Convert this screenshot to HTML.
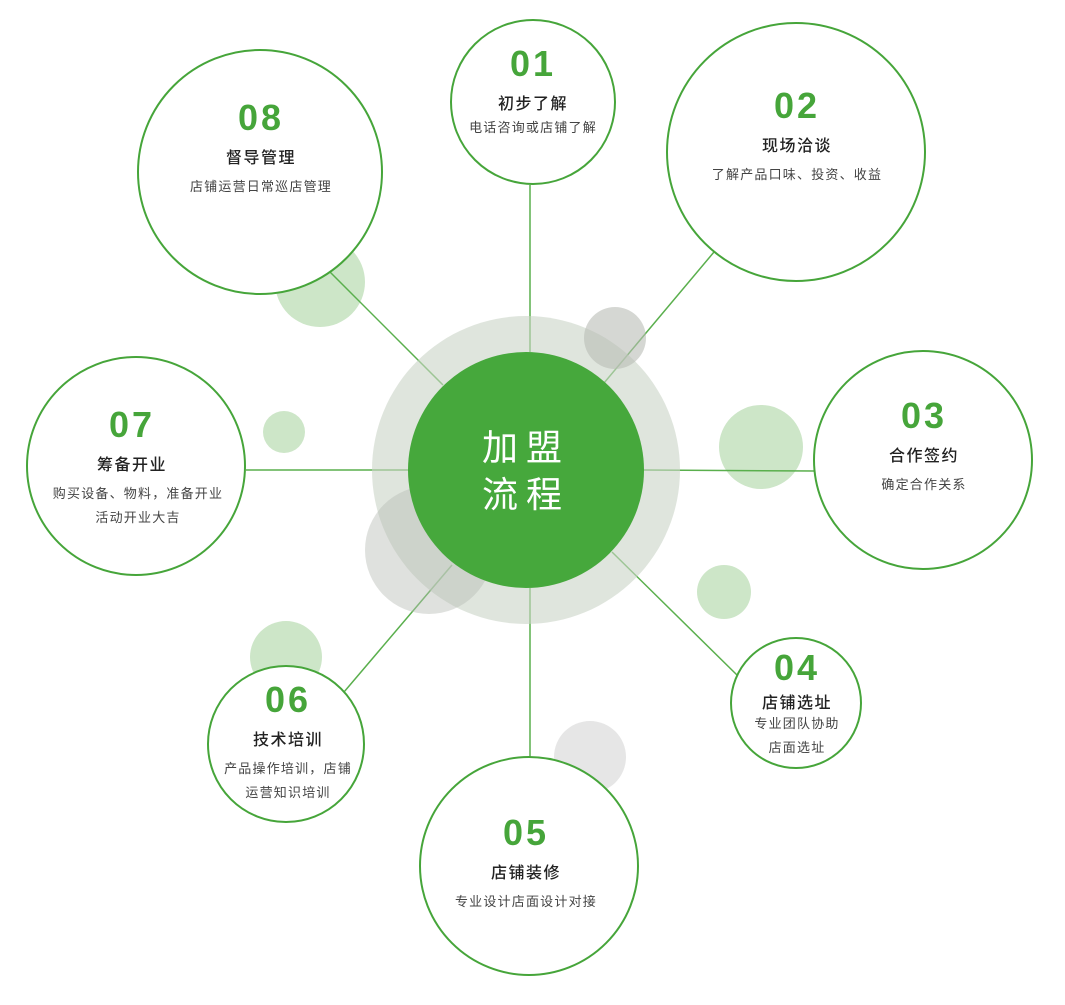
<!DOCTYPE html>
<html><head><meta charset="utf-8"><style>
html,body{margin:0;padding:0;background:#fff;}
svg text{font-family:"Liberation Sans","Noto Sans CJK SC",sans-serif;text-anchor:middle;}
.n{font-size:36px;font-weight:bold;fill:#46a53a;letter-spacing:3px;}
.t{font-size:16px;fill:#222;letter-spacing:1.5px;font-weight:500;}
.d{font-size:13px;fill:#444;letter-spacing:1.2px;}
</style></head><body>
<svg width="1065" height="1000" viewBox="0 0 1065 1000" xmlns="http://www.w3.org/2000/svg">
<circle cx="590" cy="757" r="36" fill="#e6e6e6"/>
<circle cx="320" cy="282" r="45" fill="#cde6c8"/>
<circle cx="284" cy="432" r="21" fill="#cde6c8"/>
<circle cx="761" cy="447" r="42" fill="#cde6c8"/>
<circle cx="724" cy="592" r="27" fill="#cde6c8"/>
<circle cx="286" cy="657" r="36" fill="#cde6c8"/>
<g stroke="#5aaf4d" stroke-width="1.5">
<line x1="530" y1="185" x2="530" y2="352"/>
<line x1="714" y1="252" x2="604" y2="383"/>
<line x1="644" y1="470" x2="815" y2="471"/>
<line x1="612" y1="552" x2="737" y2="675"/>
<line x1="530" y1="588" x2="530" y2="758"/>
<line x1="452" y1="565" x2="344" y2="692"/>
<line x1="246" y1="470" x2="408" y2="470"/>
<line x1="330" y1="272" x2="443" y2="385"/>
</g>
<circle cx="526" cy="470" r="154" fill="#c9d3c6" fill-opacity="0.6"/>
<circle cx="429" cy="550" r="64" fill="#b9bcb6" fill-opacity="0.45"/>
<circle cx="615" cy="338" r="31" fill="#b9bcb6" fill-opacity="0.6"/>
<circle cx="526" cy="470" r="118" fill="#46a83c"/>
<text x="526" y="460" font-size="36" fill="#fff" letter-spacing="8">加盟</text>
<text x="526" y="507" font-size="36" fill="#fff" letter-spacing="8">流程</text>
<g fill="#fff" stroke="#46a53a" stroke-width="2">
<circle cx="533" cy="102" r="82"/>
<circle cx="796" cy="152" r="129"/>
<circle cx="923" cy="460" r="109"/>
<circle cx="796" cy="703" r="65"/>
<circle cx="529" cy="866" r="109"/>
<circle cx="286" cy="744" r="78"/>
<circle cx="136" cy="466" r="109"/>
<circle cx="260" cy="172" r="122"/>
</g>
<text class="n" x="533" y="76">01</text>
<text class="t" x="533" y="109">初步了解</text>
<text class="d" x="533" y="132">电话咨询或店铺了解</text>
<text class="n" x="797" y="118">02</text>
<text class="t" x="797" y="151">现场洽谈</text>
<text class="d" x="797" y="179">了解产品口味、投资、收益</text>
<text class="n" x="924" y="428">03</text>
<text class="t" x="924" y="461">合作签约</text>
<text class="d" x="924" y="489">确定合作关系</text>
<text class="n" x="797" y="680">04</text>
<text class="t" x="797" y="708">店铺选址</text>
<text class="d" x="797" y="728">专业团队协助</text>
<text class="d" x="797" y="752">店面选址</text>
<text class="n" x="526" y="845">05</text>
<text class="t" x="526" y="878">店铺装修</text>
<text class="d" x="526" y="906">专业设计店面设计对接</text>
<text class="n" x="288" y="712">06</text>
<text class="t" x="288" y="745">技术培训</text>
<text class="d" x="288" y="773">产品操作培训，店铺</text>
<text class="d" x="288" y="797">运营知识培训</text>
<text class="n" x="132" y="437">07</text>
<text class="t" x="132" y="470">筹备开业</text>
<text class="d" x="138" y="498">购买设备、物料，准备开业</text>
<text class="d" x="138" y="522">活动开业大吉</text>
<text class="n" x="261" y="130">08</text>
<text class="t" x="261" y="163">督导管理</text>
<text class="d" x="261" y="191">店铺运营日常巡店管理</text>
</svg>
</body></html>
